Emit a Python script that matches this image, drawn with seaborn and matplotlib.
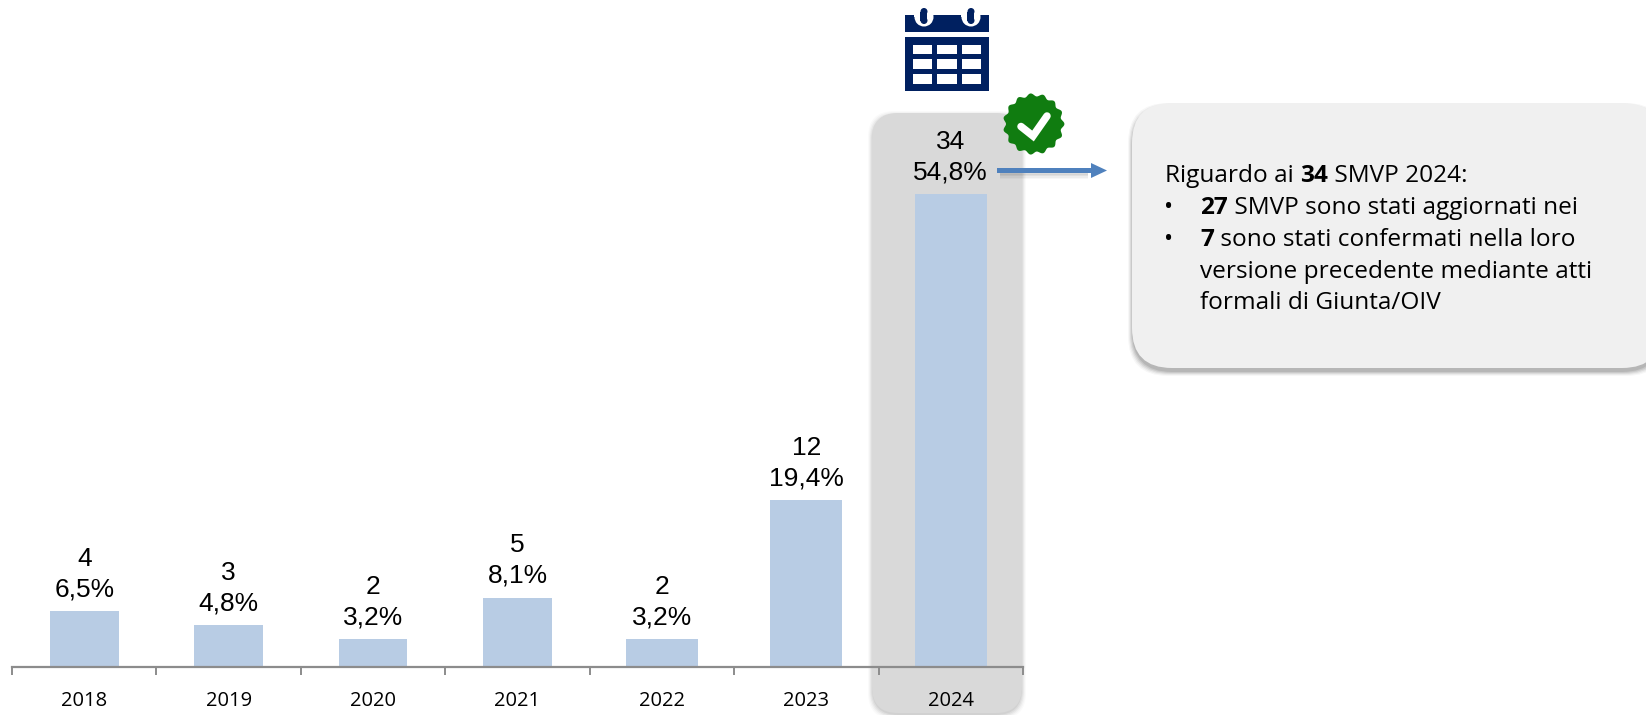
import matplotlib
matplotlib.use("Agg")
import numpy as np
import matplotlib.pyplot as plt
import seaborn as sns
from matplotlib.patches import FancyBboxPatch, Rectangle, Polygon, Circle, FancyArrow
from matplotlib.lines import Line2D

# ---- data ----
years = ["2018", "2019", "2020", "2021", "2022", "2023", "2024"]
counts = [4, 3, 2, 5, 2, 12, 34]
shares = ["6,5%", "4,8%", "3,2%", "8,1%", "3,2%", "19,4%", "54,8%"]
note_intro = [("Riguardo ai ", False), ("34", True), (" SMVP 2024:", False)]
note_item1 = [("27", True), (" SMVP sono stati aggiornati nei", False)]
note_item2 = [("7", True), (" sono stati confermati nella loro", False)]
note_cont = ["versione precedente mediante atti", "formali di Giunta/OIV"]

# ---- style ----
W, H = 1646, 715
BAR = "#B8CCE4"
PANEL = "#D9D9D9"
BOX = "#F0F0F0"
NAVY = "#002060"
GREEN = "#107C10"
ARROW = "#4F81BD"
AXIS = "#8C8C8C"
TXT = "#000000"
UI = "Open Sans"
bar_widths = [0.475, 0.475, 0.475, 0.475, 0.50, 0.50, 0.50]

sns.set_theme(style="white", rc={"font.family": ["Liberation Sans", "DejaVu Sans"]})
fig = plt.figure(figsize=(W / 100, H / 100), dpi=100, facecolor="white")


def px_axes(z):
    a = fig.add_axes([0, 0, 1, 1], zorder=z)
    a.set_xlim(0, W)
    a.set_ylim(H, 0)
    a.axis("off")
    a.patch.set_alpha(0)
    return a


bg = px_axes(0)
fg = px_axes(2)


def soft_shadow(a, x, y, w, h, r, dy, z, strength=1.0):
    for grow, al in [(4, 0.025), (3, 0.035), (2, 0.05), (1, 0.06), (0, 0.07)]:
        a.add_patch(FancyBboxPatch((x - grow + r, y + dy - grow + r), w + 2 * grow - 2 * r, h + 2 * grow - 2 * r,
                                   boxstyle=f"round,pad={r},rounding_size={r}", fc="black", ec="none",
                                   alpha=al * strength, zorder=z))


def rbox(a, x, y, w, h, r, color, z):
    a.add_patch(FancyBboxPatch((x + r, y + r), w - 2 * r, h - 2 * r,
                               boxstyle=f"round,pad={r},rounding_size={r}", fc=color, ec="none", zorder=z))


# highlighted panel behind 2024
soft_shadow(bg, 872, 113, 150, 600, 26, 2, 1, 0.8)
rbox(bg, 872, 113, 150, 600, 26, PANEL, 2)

# callout box
soft_shadow(bg, 1132, 103, 530, 265, 40, 4, 1, 1.3)
rbox(bg, 1132, 103, 530, 265, 40, BOX, 2)

# ---- bars ----
AX_Y, AX_L, AX_R = 667, 12, 1023
ax = fig.add_axes([AX_L / W, (H - AX_Y) / H, (AX_R - AX_L) / W, AX_Y / H], zorder=1)
ax.patch.set_alpha(0)
sns.barplot(x=years, y=counts, color=BAR, saturation=1, width=0.475, edgecolor="none", linewidth=0, ax=ax)
for i, p in enumerate(ax.patches):
    p.set_x(i - bar_widths[i] / 2)
    p.set_width(bar_widths[i])
ax.set_xlim(-0.5, 6.5)
ax.set_ylim(0, AX_Y / 13.9)
ax.set_xlabel("")
ax.set_ylabel("")
ax.set_yticks([])
sns.despine(ax=ax, left=True, right=True, top=True)
ax.spines["bottom"].set_color(AXIS)
ax.spines["bottom"].set_linewidth(1.6)
ax.set_xticks(np.arange(-0.5, 7, 1), minor=True)
ax.tick_params(axis="x", which="minor", length=5.8, width=1.4, color=AXIS, bottom=True)
ax.tick_params(axis="x", which="major", length=0, pad=17.5, labelsize=14.5, labelcolor=TXT)
for lab in ax.get_xticklabels():
    lab.set_fontfamily(UI)

labels = [f"{c}\n{s}" for c, s in zip(counts, shares)]
ax.bar_label(ax.containers[0], labels=labels, padding=7, fontsize=19, color=TXT, linespacing=1.36,
             family=["Liberation Sans"])

# ---- arrow ----
for off, al in [(1.5, 0.05), (3, 0.05), (4.5, 0.04), (6, 0.03)]:
    fg.add_patch(Rectangle((1000, 168 + off), 88, 5, fc="black", ec="none", alpha=al, zorder=3))
fg.add_patch(FancyArrow(997, 170.5, 110, 0, width=5, head_width=15, head_length=16, length_includes_head=True,
                        fc=ARROW, ec="none", zorder=4))

# ---- calendar icon ----
fg.add_patch(Rectangle((905, 15), 84, 17, fc=NAVY, ec="none", zorder=5))
fg.add_patch(Rectangle((905, 37), 84, 54, fc=NAVY, ec="none", zorder=5))
for cx in (924, 971):
    fg.add_patch(Circle((cx, 17), 9.5, fc="white", ec="none", zorder=6))
    fg.add_patch(Rectangle((cx - 9.5, 5), 19, 12, fc="white", ec="none", zorder=6))
    fg.add_patch(Rectangle((cx - 3.5, 11.5), 7, 9, fc=NAVY, ec="none", zorder=7))
    fg.add_patch(Circle((cx, 11.5), 3.5, fc=NAVY, ec="none", zorder=7))
    fg.add_patch(Circle((cx, 20.5), 3.5, fc=NAVY, ec="none", zorder=7))
for cell_x in (912.7, 937.3, 961.7):
    for cell_y in (44.7, 59.3, 74):
        fg.add_patch(Rectangle((cell_x, cell_y), 19.6, 9.7, fc="white", ec="none", zorder=6))

# ---- check badge ----
n_scallops = 15
theta = np.linspace(0, 2 * np.pi, 361)
rad = 29.2 + 1.5 * np.cos(n_scallops * theta)
fg.add_patch(Polygon(np.c_[1033.7 + rad * np.cos(theta), 124 + rad * np.sin(theta)],
                     closed=True, fc=GREEN, ec="none", zorder=5))
fg.add_line(Line2D([1021, 1033, 1047], [126.5, 136, 116], color="white", lw=5.4,
                   solid_capstyle="round", solid_joinstyle="miter", zorder=6))

# ---- callout text ----
FS = 17.6
fig.canvas.draw()
rend = fig.canvas.get_renderer()


def runs(x, y, parts):
    for s, bold in parts:
        t = fg.text(x, y, s.replace(" ", "\u00a0"), fontsize=FS, family=UI, color=TXT, va="baseline", ha="left",
                    fontweight="bold" if bold else "normal", zorder=8)
        x += t.get_window_extent(rend).width


runs(1165, 182, note_intro)
fg.text(1164, 214, "•", fontsize=FS, family=UI, color=TXT, va="baseline", zorder=8)
runs(1200, 214, note_item1)
fg.text(1164, 246, "•", fontsize=FS, family=UI, color=TXT, va="baseline", zorder=8)
runs(1200, 246, note_item2)
runs(1200, 278, [(note_cont[0], False)])
runs(1200, 309, [(note_cont[1], False)])

fig.savefig("out.png", dpi=100, facecolor="white")
